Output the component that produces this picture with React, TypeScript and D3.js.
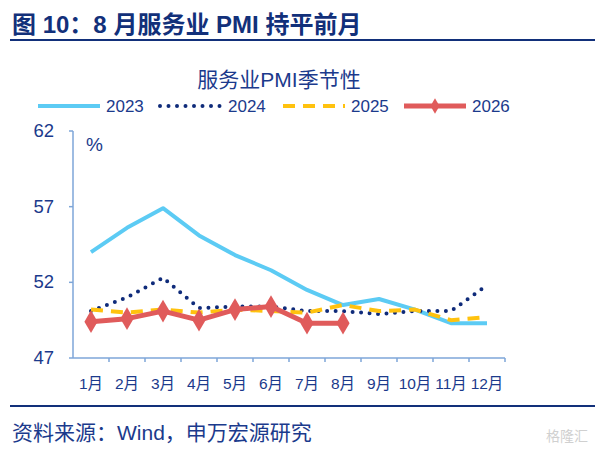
import React from 'react';
import * as d3 from 'd3';

const months = ['1月', '2月', '3月', '4月', '5月', '6月', '7月', '8月', '9月', '10月', '11月', '12月'];
const pmi2023 = [54.0, 55.6, 56.9, 55.1, 53.8, 52.8, 51.5, 50.5, 50.9, 50.2, 49.3, 49.3];
const pmi2024 = [50.1, 51.0, 52.3, 50.3, 50.4, 50.4, 50.1, 50.1, 49.9, 50.1, 50.1, 51.8];
const pmi2025 = [50.2, 50.0, 50.2, 50.0, 50.2, 50.1, 50.0, 50.5, 50.1, 50.2, 49.5, 49.7];
const pmi2026 = [49.4, 49.6, 50.1, 49.5, 50.2, 50.4, 49.3, 49.3];
const yTicks = [47, 52, 57, 62];

const navy = '#1b3a8c';
const axisBlue = '#7ea6d8';
const cjk = '"Liberation Sans", Arial, "Noto Sans CJK SC", sans-serif';

const series = [
  { name: '2023', values: pmi2023, color: '#5ccbf4', width: 4, dash: undefined, cap: 'butt', marker: false },
  { name: '2024', values: pmi2024, color: '#0f2b7a', width: 4, dash: '0 8.5', cap: 'round', marker: false },
  { name: '2025', values: pmi2025, color: '#ffc20e', width: 4, dash: '12 8', cap: 'butt', marker: false },
  { name: '2026', values: pmi2026, color: '#e05b5b', width: 5, dash: undefined, cap: 'butt', marker: true },
];

const legendX = [38, 160, 283, 404];

const App: React.FC = () => {
  const width = 595;
  const height = 454;
  const left = 73;
  const right = 505;
  const top = 131;
  const bottom = 358;

  const x = d3.scaleBand<string>().domain(months).range([left, right]);
  const y = d3.scaleLinear().domain([47, 62]).range([bottom, top]);
  const cx = (i: number) => (x(months[i]) ?? 0) + x.bandwidth() / 2;

  const line = d3
    .line<number>()
    .x((_, i) => cx(i))
    .y(d => y(d));

  const diamond = d3.symbol().type(d3.symbolDiamond).size(150)();
  const smallDiamond = d3.symbol().type(d3.symbolDiamond).size(70)();

  return (
    <svg width={width} height={height} style={{ position: 'absolute', left: 0, top: 0 }}>
      <rect width={width} height={height} fill="#fff" />
      <text x={12} y={33} fontSize={24} fontWeight="bold" fill="#12307a" fontFamily={cjk}>
        图 10：8 月服务业 PMI 持平前月
      </text>
      <line x1={10} x2={595} y1={40} y2={40} stroke="#12307a" strokeWidth={2} />

      <text x={279} y={87} fontSize={21} textAnchor="middle" fill={navy} fontFamily={cjk}>
        服务业PMI季节性
      </text>

      {series.map((s, i) => (
        <g key={s.name}>
          <line
            x1={legendX[i]}
            x2={legendX[i] + 62}
            y1={106}
            y2={106}
            stroke={s.color}
            strokeWidth={s.width}
            strokeDasharray={s.dash}
            strokeLinecap={s.cap as any}
          />
          {s.marker && <path d={smallDiamond} transform={`translate(${legendX[i] + 31},106)`} fill={s.color} />}
          <text x={legendX[i] + 68} y={112} fontSize={17} fill={navy} fontFamily={cjk}>
            {s.name}
          </text>
        </g>
      ))}

      {/* axes */}
      <line x1={left} x2={left} y1={top} y2={bottom} stroke={axisBlue} strokeWidth={1.5} />
      {yTicks.map(t => (
        <g key={t}>
          <line x1={left - 4} x2={left} y1={y(t)} y2={y(t)} stroke={axisBlue} strokeWidth={1.5} />
          <text x={54} y={y(t) + 6} fontSize={18.5} textAnchor="end" fill={navy} fontFamily={cjk}>
            {t}
          </text>
        </g>
      ))}
      <line x1={left} x2={right} y1={bottom} y2={bottom} stroke={axisBlue} strokeWidth={1.5} />
      {months.map(m => (
        <g key={m}>
          <line
            x1={(x(m) ?? 0) + x.bandwidth()}
            x2={(x(m) ?? 0) + x.bandwidth()}
            y1={bottom}
            y2={bottom + 4}
            stroke={axisBlue}
            strokeWidth={1.5}
          />
          <text
            x={(x(m) ?? 0) + x.bandwidth() / 2}
            y={389}
            fontSize={15.5}
            textAnchor="middle"
            fill={navy}
            fontFamily={cjk}
          >
            {m}
          </text>
        </g>
      ))}
      <text x={86} y={151} fontSize={19} fill={navy} fontFamily={cjk}>
        %
      </text>

      {series.map(s => (
        <g key={s.name}>
          <path
            d={line(s.values) ?? ''}
            fill="none"
            stroke={s.color}
            strokeWidth={s.width}
            strokeDasharray={s.dash}
            strokeLinecap={s.cap as any}
            strokeLinejoin="round"
          />
          {s.marker &&
            s.values.map((v, i) => (
              <path key={i} d={diamond} transform={`translate(${cx(i)},${y(v)})`} fill={s.color} />
            ))}
        </g>
      ))}

      <line x1={10} x2={595} y1={406} y2={406} stroke="#12307a" strokeWidth={2} />
      <text x={12} y={440} fontSize={21} fill={navy} fontFamily={cjk}>
        资料来源：Wind，申万宏源研究
      </text>
      <text x={588} y={441} fontSize={14} textAnchor="end" fill="#d0d0d0" fontFamily={cjk}>
        格隆汇
      </text>
    </svg>
  );
};

export default App;
